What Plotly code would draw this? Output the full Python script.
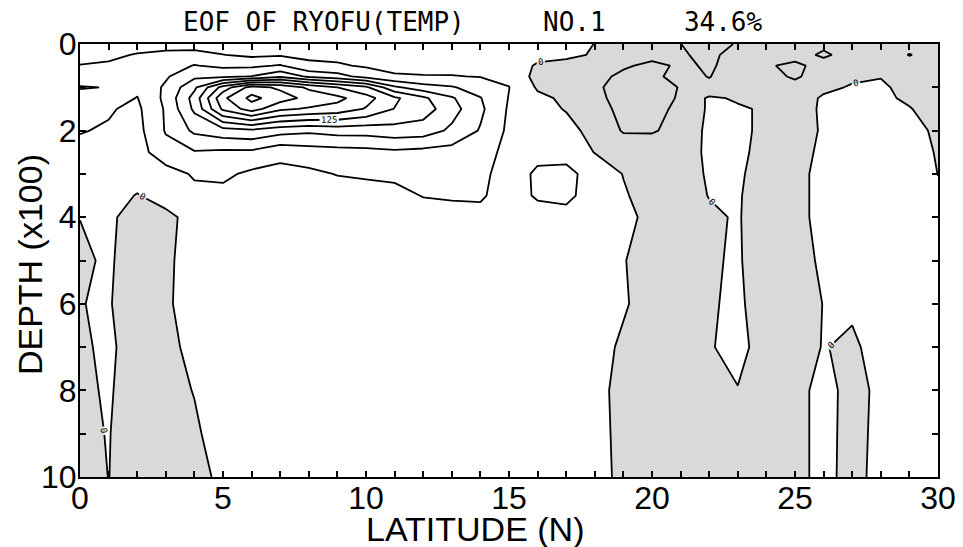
import plotly.graph_objects as go

# ---- data: first EOF (temperature) amplitude, RYOFU section ----
latitude = list(range(0, 31))                       # degrees N
depth = [0, 0.25, 0.5, 0.75, 1.0, 1.25, 1.5, 2.0, 2.5, 3.0, 3.5,
         4.0, 5.0, 6.0, 7.0, 8.0, 9.0, 10.0]          # x100 m

# one vertical profile per latitude (values at each depth above)
lat00 = [15, 20, 25.5, 35, 52, 40, 38, 26, 20, 12, 6, 0.3, -4, -0.5, -5, -5, -6, -5]
lat01 = [16, 22, 27, 36, 49, 38, 27, 23, 18, 14, 8, 4.3, 3.3, 2, 6.1, 2.7, 1.06, 0.15]
lat02 = [18, 26, 33, 36, 30, 24, 20, 17, 14, 8, -1, -10, -13, -15, -16, -13, -14, -5]
lat03 = [14, 32, 40, 47, 54, 56, 53, 52, 41, 14, 8, -5, -6, -5, -8, -9, -6, -5]
lat04 = [12, 35, 51, 70, 95, 110, 105, 80, 48, 28, 18, 7, 14, 15, 8, 1, -4, -6]
lat05 = [10, 25.5, 45, 70, 160, 195, 180, 90, 45, 30, 18, 8, 10, 12, 12, 10, 12, 4]
lat06 = [12, 20, 45, 76, 210, 232, 212, 95, 45, 20, 12, 8, 10, 12, 12, 12, 12, 10]
lat07 = [12, 22, 52, 95, 195, 212, 180, 85, 32, 18, 14, 9, 10, 12, 12, 12, 12, 10]
lat08 = [13, 20, 30, 70, 170, 192, 172, 80, 38, 20, 12, 8, 10, 12, 12, 12, 12, 10]
lat09 = [14, 18, 28, 60, 150, 182, 165, 85, 40, 26, 14, 9, 10, 12, 12, 12, 12, 10]
lat10 = [14, 17, 22, 40, 130, 160, 148, 85, 42, 28, 16, 10, 10, 12, 12, 12, 12, 10]
lat11 = [14, 16, 20, 27, 80, 130, 124, 90, 45, 30, 18, 10, 10, 12, 12, 12, 12, 10]
lat12 = [14, 15, 19, 26, 60, 105, 112, 88, 42, 32, 26, 14, 10, 12, 12, 12, 12, 10]
lat13 = [13, 14, 18, 26, 52, 78, 85, 70, 40, 32, 28, 15, 10, 12, 12, 12, 12, 10]
lat14 = [12, 13, 16, 24, 40, 51, 55, 48, 35, 30, 28, 18, 10, 12, 12, 12, 12, 10]
lat15 = [10, 11, 14, 19, 25.5, 24, 22, 20, 18, 16, 14, 10, 10, 12, 12, 12, 12, 10]
lat16 = [8, 7, -3, -8, -2.8, 5, 8, 14, 20, 28, 28, 15, 12, 10, 10, 9, 8, 8]
lat17 = [6, 4, -6, -10, -8, -4, -1.4, 8, 20, 29, 30, 18, 14, 12, 12, 10, 10, 10]
lat18 = [-0.3, -1.7, -10, -18, -22, -20, -16, -8, -1, 19, 15, 12, 10, 8, 7, 5, 5.5, 6]
lat19 = [-5, -12, -22, -30, -32, -32, -31, -27, -10, -1, 3, 4, 1, 2, -3, -5, -4.5, -4]
lat20 = [-8, -18, -30, -28, -33, -33, -32, -27, -12, -10, -12, -4, -9, -8, -10, -10, -10, -10]
lat21 = [-24.9, -23.7, -22, -20.5, -24, -23, -20, -18, -15, -12, -10, -10, -10, -10, -10, -10, -10, -10]
lat22 = [-30, -28, -27, -25.5, -22, 4, 3.5, 6, 5.8, 3, 0.75, -3.7, -2, -2.5, -2, -8, -10, -10]
lat23 = [-24, -20, -19, -18, -8, -3, 3, 5, 5, 4, 3, 2, 2, 4.6, 8, -1, -8, -10]
lat24 = [-22, -22, -23.5, -20, -14, -10, -3, -5, -7.5, -12, -17, -14.7, -11, -13.8, -12, -10, -10, -10]
lat25 = [-20, -20, -28, -27, -20, -12, -18, -16, -7.4, -5, -5, -5, -9.3, -10, -9, -5, -5, -5]
lat26 = [-22, -27, -20, -18, -5, 3, 6, 4, 4, 5, 5, 5, 4, 0.5, 1, 5, 5, 5]
lat27 = [-18, -20, -15, -4, 2, 5, 7, 8, 8, 8, 8, 8, 7, 4, -4, -5, -5.5, -6]
lat28 = [-15, -18, -12, -1, 4, 3.7, 6, 9, 10, 10, 10, 10, 10, 10, 9.3, 3.3, 4.5, 6]
lat29 = [-20, -25.5, -20, -15, -8, -3, 1, 7.4, 11, 10, 10, 10, 10, 10, 10, 8, 8, 8]
lat30 = [-18, -20, -18, -15, -12, -10, -8, -4, -2, -0.2, 2, 3, 5, 6, 6, 6, 6, 6]

x_ticks = [0, 5, 10, 15, 20, 25, 30]
y_ticks = [0, 2, 4, 6, 8, 10]
title_text = "EOF OF RYOFU(TEMP)     NO.1     34.6%"

columns = [lat00, lat01, lat02, lat03, lat04, lat05, lat06, lat07, lat08, lat09, lat10,
           lat11, lat12, lat13, lat14, lat15, lat16, lat17, lat18, lat19, lat20,
           lat21, lat22, lat23, lat24, lat25, lat26, lat27, lat28, lat29, lat30]
z = [list(row) for row in zip(*columns)]

fig = go.Figure()

# shaded negative area (plotly shades the side that fails the constraint)
fig.add_trace(go.Contour(
    x=latitude, y=depth, z=z,
    contours=dict(type='constraint', operation='>', value=0),
    fillcolor='#d9d9d9', line=dict(width=0, smoothing=0),
    showscale=False, hoverinfo='skip'))


def contour_lines(start, end, labels=False):
    return go.Contour(
        x=latitude, y=depth, z=z, autocontour=False,
        contours=dict(start=start, end=end, size=25, coloring='none',
                      showlabels=labels,
                      labelfont=dict(size=9, color='black', family='DejaVu Sans Mono')),
        line=dict(color='black', width=1.8, smoothing=0),
        showscale=False, hoverinfo='skip')


fig.add_trace(contour_lines(-25, -25))
fig.add_trace(contour_lines(0, 0, labels=True))
fig.add_trace(contour_lines(25, 100))
fig.add_trace(contour_lines(125, 125, labels=True))
fig.add_trace(contour_lines(150, 225))

tickfont = dict(family='Liberation Sans, Arial, sans-serif', size=32, color='black')
titlefont = dict(family='Liberation Sans Narrow, Liberation Sans, Arial, sans-serif', size=34, color='black')

fig.update_xaxes(range=[0, 30], tickmode='array', tickvals=x_ticks, automargin=False,
                 ticks='inside', ticklen=6, tickwidth=1.5, tickcolor='black', ticklabelstandoff=-8,
                 minor=dict(dtick=1, tick0=0, ticks='inside', ticklen=6, tickwidth=1.5, tickcolor='black'),
                 showline=True, linewidth=2, linecolor='black', mirror='ticks',
                 showgrid=False, zeroline=False, tickfont=tickfont)
fig.update_yaxes(range=[10, 0], tickmode='array', tickvals=y_ticks, automargin=False,
                 ticks='inside', ticklen=6, tickwidth=1.5, tickcolor='black', ticklabelstandoff=-5,
                 minor=dict(dtick=1, tick0=0, ticks='inside', ticklen=6, tickwidth=1.5, tickcolor='black'),
                 showline=True, linewidth=2, linecolor='black', mirror='ticks',
                 showgrid=False, zeroline=False, tickfont=tickfont)

# the page body has an 8 px margin, so the figure is sized to the remaining view
fig.update_layout(
    template='none',
    width=955, height=539,
    margin=dict(l=72, r=25, t=36, b=70),
    paper_bgcolor='white', plot_bgcolor='white', showlegend=False,
    annotations=[
        dict(text=title_text.replace(' ', '\u00a0'), xref='paper', yref='paper',
             x=0.458, y=1.05, xanchor='center', yanchor='middle', showarrow=False,
             font=dict(family='DejaVu Sans Mono, Liberation Mono, monospace', size=26, color='black')),
        dict(text='LATITUDE (N)', xref='paper', yref='paper', x=0.46, y=-0.121,
             xanchor='center', yanchor='middle', showarrow=False, font=titlefont),
        dict(text='DEPTH (x100)', xref='paper', yref='paper', x=-0.058, y=0.49,
             xanchor='center', yanchor='middle', showarrow=False, textangle=-90, font=titlefont),
    ])

fig.write_html("out.html")
